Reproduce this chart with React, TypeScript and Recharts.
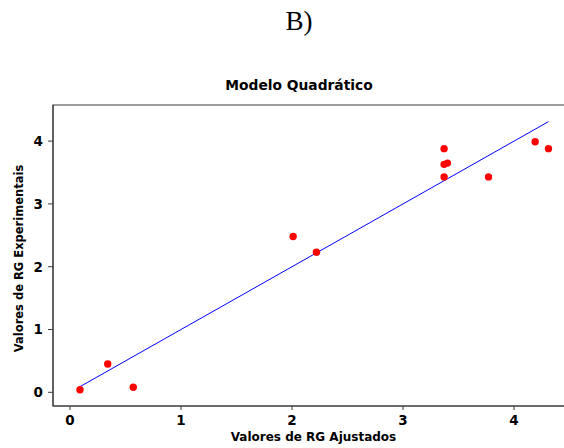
import {
  ScatterChart, Scatter, XAxis, YAxis, ReferenceLine, ReferenceArea,
} from 'recharts';

const fitted = [0.09, 0.34, 0.57, 2.01, 2.22, 3.37, 3.37, 3.40, 3.37, 3.77, 4.19, 4.31];
const experimental = [0.04, 0.45, 0.08, 2.48, 2.23, 3.88, 3.63, 3.65, 3.43, 3.43, 3.99, 3.88];
const xTicks = [0, 1, 2, 3, 4];
const yTicks = [0, 1, 2, 3, 4];
const xDomain = [-0.153, 4.54];
const yDomain = [-0.218, 4.575];
// fitted line: experimental = fitted, over the range of fitted values
const lineStart = 0.09;
const lineEnd = 4.31;

const points = fitted.map((x, i) => ({ x, y: experimental[i] }));

const font = '"DejaVu Sans", Verdana, sans-serif';
const axisGrey = '#3a3a3a';

const Dot = (props: any) => (
  <circle cx={props.cx} cy={props.cy} r={3.7} fill="#ff0000" />
);

const YLabel = (props: any) => {
  const vb = props.viewBox;
  const cy = vb.y + vb.height / 2 + 3;
  return (
    <text
      x={19}
      y={cy}
      transform={`rotate(-90, 19, ${cy})`}
      textAnchor="middle"
      dominantBaseline="central"
      fontFamily={font}
      fontWeight="bold"
      fontSize={11.5}
      fill="#000"
    >
      Valores de RG Experimentais
    </text>
  );
};

const XLabel = (props: any) => {
  const vb = props.viewBox;
  return (
    <text
      x={vb.x + vb.width / 2}
      y={vb.y + 35}
      textAnchor="middle"
      fontFamily={font}
      fontWeight="bold"
      fontSize={12}
      fill="#000"
    >
      Valores de RG Ajustados
    </text>
  );
};

export default function App() {
  return (
    <div style={{ position: 'fixed', left: 0, top: 0, width: 564, height: 448, overflow: 'hidden', background: '#fff' }}>
      <div style={{ position: 'absolute', left: 0, top: 6, width: 598, textAlign: 'center', fontFamily: '"Liberation Serif", serif', fontSize: 27, color: '#000' }}>
        B)
      </div>
      <div style={{ position: 'absolute', left: 0, top: 77, width: 598, textAlign: 'center', fontFamily: font, fontWeight: 'bold', fontSize: 13.8, color: '#000' }}>
        Modelo Quadrático
      </div>
      <ScatterChart width={580} height={448} margin={{ top: 105, right: 6, bottom: 0, left: 0 }}>
        <ReferenceArea
          x1={xDomain[0]} x2={xDomain[1]} y1={yDomain[0]} y2={yDomain[1]}
          fill="none" stroke={axisGrey} strokeWidth={1.2} ifOverflow="visible"
        />
        <XAxis
          type="number" dataKey="x" domain={xDomain} ticks={xTicks} allowDataOverflow
          height={42} stroke={axisGrey} tickSize={4} tickMargin={5}
          tick={{ fill: '#000', fontFamily: font, fontWeight: 'bold', fontSize: 13.5 }}
          label={<XLabel />}
        />
        <YAxis
          type="number" dataKey="y" domain={yDomain} ticks={yTicks} allowDataOverflow
          width={53} stroke={axisGrey} tickSize={5} tickMargin={5}
          tick={{ fill: '#000', fontFamily: font, fontWeight: 'bold', fontSize: 13.5 }}
          label={<YLabel />}
        />
        <ReferenceLine
          segment={[{ x: lineStart, y: lineStart }, { x: lineEnd, y: lineEnd }]}
          stroke="#0000ff" strokeWidth={1}
        />
        <Scatter data={points} shape={<Dot />} isAnimationActive={false} />
      </ScatterChart>
    </div>
  );
}
